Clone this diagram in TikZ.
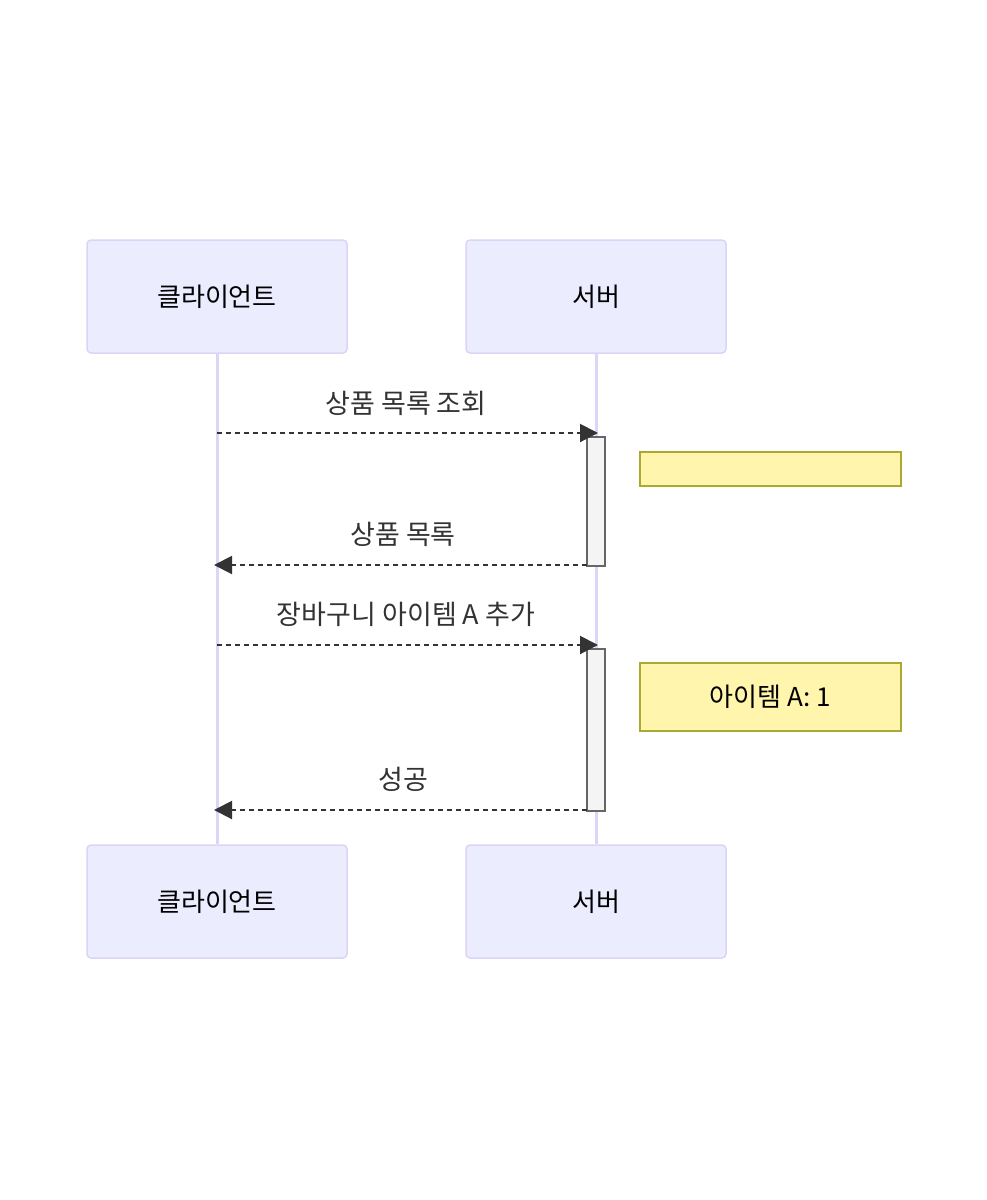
\documentclass[tikz,border=0pt]{standalone}
\usepackage{fontspec}
\setmainfont{Noto Sans CJK KR}
\usetikzlibrary{arrows.meta, positioning}
\definecolor{actorfill}{HTML}{ECECFF}
\definecolor{actorline}{HTML}{DCD4F5}
\definecolor{lifeline}{HTML}{DDD5F7}
\definecolor{notefill}{HTML}{FFF5AD}
\definecolor{noteline}{HTML}{AAAA33}
\definecolor{actfill}{HTML}{F4F4F4}
\definecolor{actline}{HTML}{666666}
\definecolor{msgtext}{HTML}{333333}

\tikzset{
  actorbox/.style={draw=actorline, fill=actorfill, line width=1.5pt, rounded corners=4pt,
                   minimum width=260pt, minimum height=113pt, font=\fontsize{26}{30}\selectfont},
  notebox/.style={draw=noteline, fill=notefill, line width=1.5pt,
                  minimum width=261pt, font=\fontsize{26}{30}\selectfont, anchor=north west},
  actbar/.style={draw=actline, fill=actfill, line width=1.5pt, minimum width=18pt, anchor=north},
  msg/.style={draw=msgtext, line width=2pt, dash pattern=on 5pt off 4pt,
              -{Triangle[length=18pt, width=18pt]}},
  msglabel/.style={text=msgtext, font=\fontsize{27}{31}\selectfont}
}

\begin{document}
\begin{tikzpicture}[x=1pt, y=-1pt]
  \useasboundingbox (0,0) rectangle (987,1200);

  % Actors
  \node[actorbox] (cliTop) at (217,296.5) {클라이언트};
  \node[actorbox] (srvTop) at (596,296.5) {서버};
  \node[actorbox] (cliBot) at (217,901.5) {클라이언트};
  \node[actorbox] (srvBot) at (596,901.5) {서버};

  % Lifelines
  \draw[lifeline, line width=3pt] (cliTop.south) -- (cliBot.north);
  \draw[lifeline, line width=3pt] (srvTop.south) -- (srvBot.north);

  % Activations
  \node[actbar, minimum height=129pt] (act1) at (596,436) {};
  \node[actbar, minimum height=162pt] (act2) at (596,648) {};

  % Notes
  \node[notebox, minimum height=34pt] (note1) at (639,451) {};
  \node[notebox, minimum height=68pt] (note2) at (639,662) {아이템 A: 1};

  % Message ends
  \coordinate (m1a) at (217,433);
  \coordinate (m1b) at (598,433);
  \coordinate (m2a) at (587,565);
  \coordinate (m2b) at (214,565);
  \coordinate (m3a) at (217,645);
  \coordinate (m3b) at (598,645);
  \coordinate (m4a) at (587,810);
  \coordinate (m4b) at (214,810);

  % Messages
  \draw[msg] (m1a) -- (m1b);
  \node[msglabel] (lab1) at (406,403) {상품 목록 조회};
  \draw[msg] (m2a) -- (m2b);
  \node[msglabel] (lab2) at (403,534) {상품 목록};
  \draw[msg] (m3a) -- (m3b);
  \node[msglabel] (lab3) at (406,614) {장바구니 아이템 A 추가};
  \draw[msg] (m4a) -- (m4b);
  \node[msglabel] (lab4) at (403,779) {성공};
\end{tikzpicture}
\end{document}
